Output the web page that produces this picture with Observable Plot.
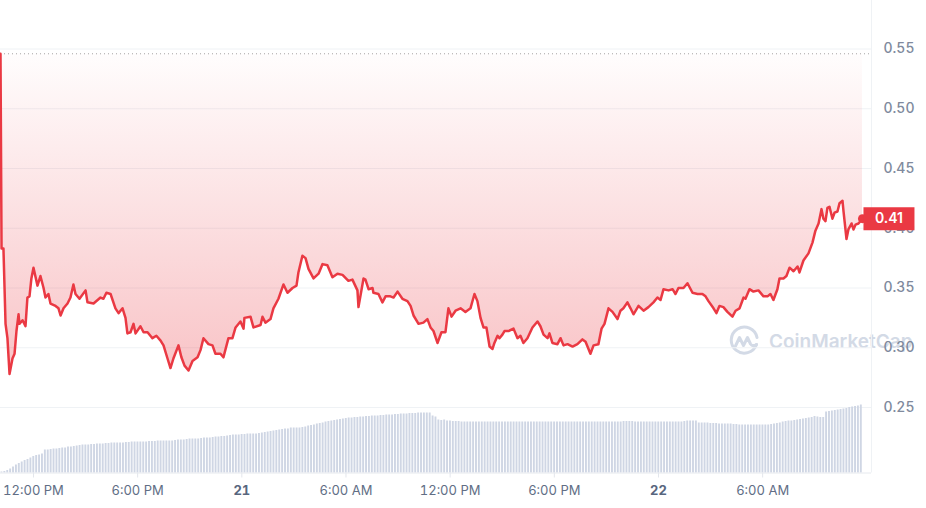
<!DOCTYPE html>
<html>
<head>
<meta charset="utf-8">
<script src="https://cdn.jsdelivr.net/npm/d3@7"></script>
<script src="https://cdn.jsdelivr.net/npm/@observablehq/plot@0.6"></script>
<style>
  body { margin: 0; background: #fff; font-family: Inter, sans-serif; }
  #wrap { position: relative; width: 926px; height: 508px; overflow: hidden; }
  #wrap > svg { position: absolute; left: 0; top: 0; }
  #wm { position: absolute; left: 728px; top: 325px; display: flex; align-items: center; gap: 9px;
        color: #d3dae6; font: 600 19px Inter, sans-serif; white-space: nowrap; }
</style>
</head>
<body>
<div id="wrap">
  <div id="wm">
    <svg width="32" height="32" viewBox="0 0 32 32">
      <path d="M28.5 19.5 A13 13 0 1 1 29 12.5" fill="none" stroke="#d3dae6" stroke-width="3" stroke-linecap="round"/>
      <path d="M7.5 21 L11.5 12.5 L15.5 20.5 L19.5 12.5 L22.5 19 Q24.5 22 28.5 19.5" fill="none" stroke="#d3dae6" stroke-width="3" stroke-linejoin="round" stroke-linecap="round"/>
    </svg>
    <span>CoinMarketCap</span>
  </div>
</div>
<script>
// ---- data ----
// hours relative to 12:00 PM on the 20th
const hours = [-1.90,-1.84,-1.73,-1.61,-1.50,-1.38,-1.21,-1.09,-0.98,-0.86,-0.81,-0.63,-0.46,-0.35,-0.23,-0.12,
  0.00,0.23,0.40,0.58,0.69,0.86,0.98,1.27,1.44,1.56,1.73,1.96,2.13,2.30,2.42,2.65,3.00,3.11,3.46,3.86,4.03,4.20,
  4.44,4.72,4.90,5.13,5.30,5.41,5.59,5.76,5.88,6.16,6.34,6.57,6.85,7.08,7.32,7.49,7.72,7.89,8.06,8.35,8.52,8.70,
  8.93,9.16,9.45,9.62,9.79,10.08,10.31,10.48,10.77,10.94,11.23,11.46,11.64,11.92,12.10,12.15,12.50,12.67,13.08,
  13.19,13.36,13.65,13.82,14.11,14.40,14.63,14.92,15.15,15.26,15.49,15.67,15.84,16.13,16.42,16.65,16.93,17.22,
  17.51,17.80,18.14,18.37,18.66,18.72,19.01,19.12,19.30,19.53,19.58,19.87,20.10,20.28,20.56,20.74,20.97,21.25,
  21.54,21.72,21.89,22.18,22.46,22.69,22.87,23.04,23.27,23.50,23.73,23.90,24.08,24.31,24.60,24.88,25.17,25.40,
  25.57,25.75,25.92,26.09,26.27,26.44,26.55,26.73,26.84,27.01,27.13,27.36,27.65,27.88,28.05,28.22,28.45,28.74,
  29.03,29.20,29.38,29.61,29.72,29.89,30.18,30.36,30.53,30.76,31.05,31.33,31.62,31.80,32.08,32.26,32.54,32.72,
  32.89,33.12,33.35,33.64,33.81,33.98,34.21,34.39,34.56,34.85,35.14,35.42,35.71,35.94,36.12,36.29,36.58,36.81,
  36.98,37.15,37.44,37.67,37.96,38.25,38.53,38.71,38.88,39.17,39.34,39.51,39.74,39.97,40.26,40.44,40.67,40.90,
  41.01,41.24,41.47,41.76,42.05,42.28,42.45,42.62,42.85,42.97,43.20,43.37,43.55,43.78,44.01,44.12,44.35,44.64,
  44.87,45.04,45.22,45.39,45.50,45.62,45.73,45.85,46.02,46.14,46.31,46.43,46.60,46.66,46.83,46.94,47.12,47.23,
  47.35,47.52,47.75];
const prices = [0.546,0.383,0.383,0.320,0.308,0.278,0.291,0.295,0.314,0.328,0.320,0.323,0.318,0.342,0.343,0.358,
  0.367,0.352,0.360,0.350,0.342,0.345,0.337,0.335,0.333,0.327,0.333,0.337,0.342,0.353,0.345,0.341,0.348,0.338,0.337,0.342,0.341,0.346,
  0.345,0.333,0.329,0.333,0.325,0.312,0.313,0.320,0.312,0.318,0.313,0.313,0.308,0.310,0.306,0.302,0.291,0.283,0.291,0.302,0.292,0.285,
  0.281,0.289,0.292,0.298,0.308,0.303,0.302,0.295,0.295,0.292,0.308,0.308,0.317,0.322,0.316,0.325,0.326,0.317,0.319,
  0.326,0.321,0.324,0.333,0.341,0.353,0.346,0.350,0.352,0.363,0.377,0.375,0.366,0.358,0.362,0.370,0.369,0.359,
  0.362,0.361,0.356,0.357,0.348,0.334,0.358,0.357,0.349,0.350,0.346,0.345,0.338,0.343,0.343,0.342,0.347,0.341,
  0.339,0.335,0.327,0.320,0.321,0.324,0.317,0.314,0.304,0.313,0.313,0.333,0.326,0.331,0.333,0.330,0.333,0.345,
  0.339,0.325,0.317,0.317,0.301,0.299,0.304,0.310,0.308,0.311,0.314,0.314,0.316,0.308,0.310,0.304,0.308,0.317,
  0.322,0.318,0.311,0.308,0.312,0.304,0.303,0.308,0.302,0.303,0.301,0.303,0.307,0.305,0.295,0.302,0.303,0.316,
  0.320,0.333,0.330,0.324,0.331,0.333,0.338,0.333,0.328,0.335,0.331,0.334,0.338,0.342,0.340,0.349,0.348,0.349,
  0.345,0.350,0.350,0.354,0.346,0.345,0.345,0.343,0.339,0.333,0.329,0.335,0.334,0.330,0.326,0.331,0.333,0.342,
  0.341,0.349,0.347,0.348,0.343,0.343,0.345,0.340,0.349,0.358,0.358,0.360,0.367,0.364,0.368,0.363,0.373,0.379,
  0.388,0.398,0.404,0.416,0.408,0.406,0.417,0.418,0.408,0.413,0.414,0.421,0.423,0.414,0.391,0.399,0.404,0.399,
  0.403,0.404,0.408];
// volume bars, one every 10 minutes from 1.9 h before 12:00 PM on the 20th (arbitrary units)
const volumeStartHour = -1.9;
const volumeStepMinutes = 10;
const volumes = [1,1.5,2.5,4,6,8,9.5,11,12.5,13.5,15,16.5,17.5,18,19,
  23,23,23.5,24,24,24.5,25,25,26,26,26.5,27,27.5,28,28,
  28,28.5,28.5,29,29,29,29.5,29.5,30,30,30,30,30,30.5,30.5,
  31,31,31,31,31,31,31.5,31.5,31.5,32,32,32,32,32,32,
  32.5,33,33,33,33.5,34,34,34,34,34.5,35,35,35,35.5,36,
  36,36.5,36.5,37,37.5,38,38,38,38.5,38.5,39,39,39,39,39.5,
  40,40.5,41,41.5,42,42.5,43,43.5,44,44,45,45,45,45,45.5,
  46,47,47.5,48,49,49.5,50,51,51.5,52,52.5,53,53.5,54,54.5,
  55,55,55.5,55.5,56,56,56.5,56.5,57,57,57,57.5,57.5,58,58,
  58,58.5,58.5,59,59,59,59.5,59.5,59.5,60,60,60,60,60,57,
  56,53,52.5,53,52,52,51.5,51.5,51.5,51,51,51,51,51,51,
  51,51,51,51,51,51,51,51,51,51,51,51,51,51,51,
  51,51,51,51,51,51,51,51,51,51,51,51,51,51,51,
  51,51,51,51,51,51,51,51,51,51,51,51,51,51,51,
  51,51,51,51,51,51.5,51.5,51.5,51.5,51,51,51,51,51,51,
  51,51,51,51,51,51,51,51,51,51,51,51.5,52,52,52,
  52,50,50,50,50,49.5,49.5,49.5,49,49,49,49,49,48.5,48.5,
  48,48,48,48,48,48,48,48,48,48,48,48.5,49,49.5,50,
  51,51.5,52,52,52.5,53,53.5,54,54.5,55,55.5,56.5,56,55.5,55.5,
  61,61.5,62,62.5,63,63.5,64,64.5,65.5,66,66.5,67,68];
const xTickHours = [0, 6, 12, 18, 24, 30, 36, 42];
const xTickLabels = ["12:00 PM", "6:00 PM", "21", "6:00 AM", "12:00 PM", "6:00 PM", "22", "6:00 AM"];
const dayTickLabels = ["21", "22"];
const yTicks = [0.25, 0.30, 0.35, 0.40, 0.45, 0.50, 0.55];

// ---- build ----
const baseTime = Date.UTC(2024, 4, 20, 12);
const HOUR = 3600e3;
const toDate = h => new Date(baseTime + h * HOUR);
const series = hours.map((h, i) => ({time: toDate(h), price: prices[i]}));
const openPrice = prices[0];
const last = series[series.length - 1];
const W = 926, H = 508, plotRight = 871, baseY = 472.5;
const xDomain = [toDate(-1.9), toDate(48.27)];

const ticks = xTickHours.map((h, i) => ({t: toDate(h), label: xTickLabels[i]}));
const labelOf = new Map(ticks.map(d => [+d.t, d.label]));
const regularTicks = ticks.filter(d => !dayTickLabels.includes(d.label)).map(d => d.t);
const dayTicks = ticks.filter(d => dayTickLabels.includes(d.label)).map(d => d.t);

const badgeSymbol = {
  draw(ctx) {
    ctx.moveTo(-25.5, -11.5); ctx.lineTo(25.5, -11.5); ctx.lineTo(25.5, 11.5); ctx.lineTo(-25.5, 11.5); ctx.closePath();
  }
};

const common = {
  width: W, height: H, marginLeft: 0, marginRight: W - plotRight, marginTop: 0, marginBottom: H - baseY,
  style: {background: "transparent", fontFamily: "Inter, sans-serif", overflow: "visible"}
};

const pricePlot = Plot.plot({
  ...common,
  x: {type: "utc", domain: xDomain, range: [0, plotRight], label: null},
  y: {domain: [0.25, 0.55], range: [407, 48.5], label: null},
  marks: [
    Plot.gridY(yTicks, {stroke: "#eff2f5", strokeOpacity: 1}),
    Plot.ruleX([xDomain[1]], {stroke: "#eff2f5"}),
    Plot.ruleY([openPrice], {stroke: "#a6a6a6", strokeDasharray: "1,3"}),
    Plot.areaY(series, {x: "time", y1: openPrice, y2: "price", fill: "url(#priceFill)"}),
    Plot.lineY(series, {x: "time", y: "price", stroke: "#ea3943", strokeWidth: 2.5}),
    Plot.dot([last], {x: "time", y: "price", r: 4.5, fill: "#ea3943"}),
    Plot.axisY(yTicks, {anchor: "right", label: null, tickSize: 0, tickPadding: 12, tickFormat: d3.format(".2f"),
      fill: "#808a9d", fontSize: 14, fontWeight: 500}),
    Plot.axisX(regularTicks, {label: null, tickSize: 5, tickPadding: 8, stroke: "#e3e6ec", fill: "#616e85", fontSize: 13,
      tickFormat: d => labelOf.get(+d)}),
    Plot.axisX(dayTicks, {label: null, tickSize: 5, tickPadding: 8, stroke: "#e3e6ec", fill: "#58667e", fontSize: 13, fontWeight: 700,
      tickFormat: d => labelOf.get(+d)}),
    Plot.dot([last], {x: "time", y: "price", symbol: badgeSymbol, fill: "#ea3943", dx: 26.5}),
    Plot.text([last], {x: "time", y: "price", text: d => d3.format(".2f")(d.price), dx: 26.5,
      fill: "white", fontSize: 14, fontWeight: 600})
  ]
});

const defs = d3.select(pricePlot).insert("defs", ":first-child");
const grad = defs.append("linearGradient").attr("id", "priceFill")
  .attr("x1", 0).attr("y1", 0).attr("x2", 0).attr("y2", 1);
grad.append("stop").attr("offset", "0%").attr("stop-color", "#ea3943").attr("stop-opacity", 0.01);
grad.append("stop").attr("offset", "100%").attr("stop-color", "#ea3943").attr("stop-opacity", 0.3);

const volData = volumes.map((v, i) => ({
  t1: toDate(volumeStartHour + i * volumeStepMinutes / 60),
  t2: toDate(volumeStartHour + (i + 1) * volumeStepMinutes / 60),
  v
}));

const volumePlot = Plot.plot({
  ...common,
  x: {type: "utc", domain: xDomain, range: [0, plotRight], axis: null},
  y: {domain: [0, 70], range: [baseY, baseY - 70], axis: null},
  marks: [
    Plot.rectY(volData, {x1: "t1", x2: "t2", y: "v", fill: "#cfd6e4", insetLeft: 0.5, insetRight: 0.5}),
    Plot.ruleY([0], {stroke: "#e6e9ee"})
  ]
});

const wrap = document.getElementById("wrap");
wrap.appendChild(pricePlot);
wrap.appendChild(volumePlot);
</script>
</body>
</html>
